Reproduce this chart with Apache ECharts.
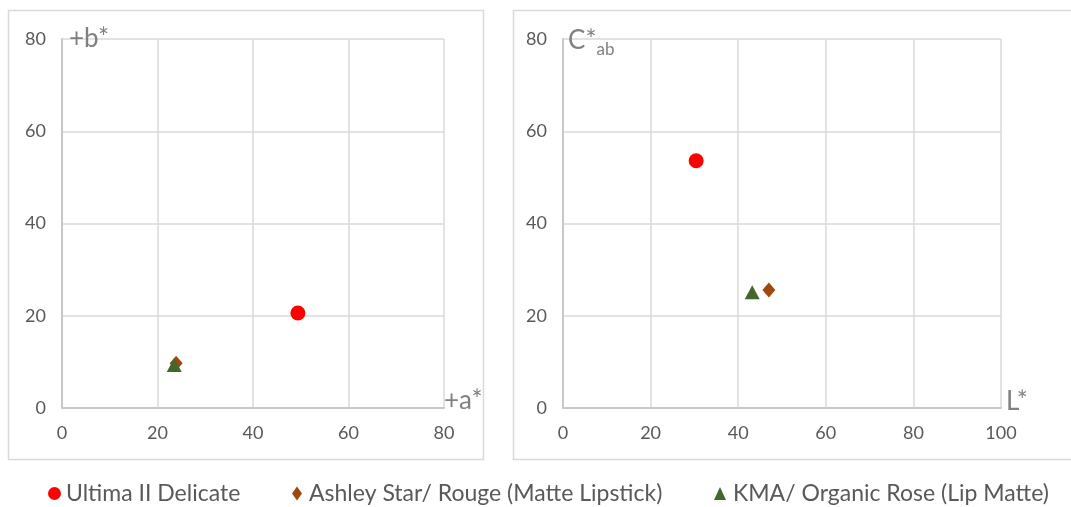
<!DOCTYPE html>
<html>
<head>
<meta charset="utf-8">
<script src="https://cdn.jsdelivr.net/npm/echarts@6/dist/echarts.min.js"></script>
<style>
  html, body { margin: 0; padding: 0; background: #ffffff; }
  #chart { width: 1071px; height: 507px; }
</style>
</head>
<body>
<div id="chart"></div>
<script>
// Lipstick colour measurements: a*/b* plane and L*/C*ab plane
const samples = ['Ultima II Delicate', 'Ashley Star/ Rouge (Matte Lipstick)', 'KMA/ Organic Rose (Lip Matte)'];
const aStar = [49.4, 23.9, 23.5];
const bStar = [20.6, 9.7, 9.3];
const lStar = [30.4, 47.0, 43.2];
const cStar = [53.6, 25.6, 25.1];

const abTicks = [0, 20, 40, 60, 80];
const lTicks = [0, 20, 40, 60, 80, 100];

const markers = ['circle', 'diamond', 'triangle'];
const colors = ['#ff0000', '#9e480e', '#43682b'];
const markerSizes = [[15, 15], [13, 15], [15, 14]];

const FONT = 'Lato, "Open Sans", sans-serif';
const tickColor = '#595959';
const nameColor = '#808080';
const gridColor = '#d9d9d9';
const axisColor = '#c8c8c8';

function valueAxis(idx, ticks, extra) {
  return Object.assign({
    type: 'value',
    gridIndex: idx,
    min: ticks[0],
    max: ticks[ticks.length - 1],
    interval: ticks[1] - ticks[0],
    axisLine: { show: true, lineStyle: { color: axisColor, width: 2 } },
    axisTick: { show: false },
    splitLine: { show: true, lineStyle: { color: gridColor, width: 1.5 } },
    axisLabel: { color: tickColor, fontFamily: FONT, fontSize: 18, margin: 16 }
  }, extra);
}

const series = [];
samples.forEach((name, i) => {
  series.push({
    name: name, type: 'scatter', xAxisIndex: 0, yAxisIndex: 0,
    symbol: markers[i], symbolSize: markerSizes[i],
    itemStyle: { color: colors[i], opacity: 1 },
    data: [[aStar[i], bStar[i]]]
  });
  series.push({
    name: name, type: 'scatter', xAxisIndex: 1, yAxisIndex: 1,
    symbol: markers[i], symbolSize: markerSizes[i],
    itemStyle: { color: colors[i], opacity: 1 },
    data: [[lStar[i], cStar[i]]]
  });
});

const legendLeft = [48, 292, 714];
const legendIcon = [[13, 13], [10, 14], [12, 13]];
const legendTextPad = [0, 2, 2];
const legends = samples.map((name, i) => ({
  data: [{ name: name, icon: markers[i] }],
  left: legendLeft[i],
  top: 482,
  itemWidth: legendIcon[i][0],
  itemHeight: legendIcon[i][1],
  itemGap: 0,
  padding: 0,
  selectedMode: false,
  textStyle: { color: tickColor, fontFamily: FONT, fontSize: 23, padding: [0, 0, 0, legendTextPad[i]] }
}));

const chart = echarts.init(document.getElementById('chart'), null, { renderer: 'canvas' });
chart.setOption({
  backgroundColor: '#ffffff',
  animation: false,
  graphic: [
    { type: 'rect', shape: { x: 8.5, y: 10.5, width: 475, height: 449 },
      style: { fill: 'none', stroke: '#d9d9d9', lineWidth: 1.5 }, z: -1 },
    { type: 'rect', shape: { x: 513.5, y: 10.5, width: 570, height: 449 },
      style: { fill: 'none', stroke: '#d9d9d9', lineWidth: 1.5 }, z: -1 }
  ],
  legend: legends,
  grid: [
    { left: 62, top: 39, width: 382, height: 369 },
    { left: 563, top: 39, width: 438, height: 369 }
  ],
  xAxis: [
    valueAxis(0, abTicks, {
      name: '+a*', nameLocation: 'end', nameGap: 0,
      nameTextStyle: { color: nameColor, fontFamily: FONT, fontSize: 26, align: 'left', verticalAlign: 'bottom', lineHeight: 14 }
    }),
    valueAxis(1, lTicks, {
      name: 'L*', nameLocation: 'end', nameGap: 5,
      nameTextStyle: { color: nameColor, fontFamily: FONT, fontSize: 26, align: 'left', verticalAlign: 'bottom', lineHeight: 12 }
    })
  ],
  yAxis: [
    valueAxis(0, abTicks, {
      name: '+b*', nameLocation: 'end', nameGap: 0,
      nameTextStyle: { color: nameColor, fontFamily: FONT, fontSize: 26, align: 'left', verticalAlign: 'middle', padding: [0, 0, 0, 7] }
    }),
    valueAxis(1, abTicks, {
      name: '{m|C*}{s|ab}', nameLocation: 'end', nameGap: 0,
      nameTextStyle: {
        color: nameColor, fontFamily: FONT, align: 'left', verticalAlign: 'middle', padding: [8, 0, 0, 5],
        rich: {
          m: { color: nameColor, fontFamily: FONT, fontSize: 26, verticalAlign: 'top', lineHeight: 30 },
          s: { color: nameColor, fontFamily: FONT, fontSize: 17, verticalAlign: 'bottom', lineHeight: 30 }
        }
      }
    })
  ],
  series: series
});
</script>
</body>
</html>
